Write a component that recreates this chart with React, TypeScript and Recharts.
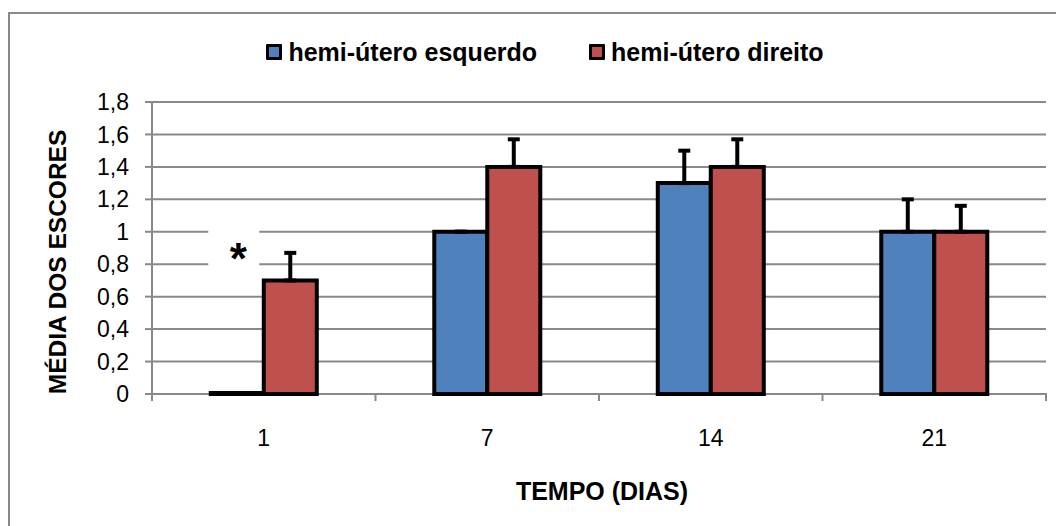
import { Bar, BarChart, CartesianGrid, ErrorBar, LabelList, Legend, XAxis, YAxis } from "recharts";

const days = ["1", "7", "14", "21"];
const seriesNames = ["hemi-útero esquerdo", "hemi-útero direito"];
const esquerdo = [0, 1.0, 1.3, 1.0];
const direito = [0.7, 1.4, 1.4, 1.0];
const esquerdoErr = [0, 0, 0.2, 0.2];
const direitoErr = [0.17, 0.17, 0.17, 0.16];
const marks = ["*", "", "", ""];
const yTicks = [0, 0.2, 0.4, 0.6, 0.8, 1, 1.2, 1.4, 1.6, 1.8];

const data = days.map((day, i) => ({
  day,
  esquerdo: esquerdo[i],
  direito: direito[i],
  esquerdoErr: [0, esquerdoErr[i]],
  direitoErr: [0, direitoErr[i]],
  mark: marks[i],
}));

const W = 1056;
const H = 518;
const margin = { top: 64, right: 18, bottom: 0, left: 0 };
const Y_AXIS_W = 144;
const X_AXIS_H = 132;
const FONT = '"Liberation Sans", Arial, sans-serif';
const GRID = "#898989";
const band = (W - margin.left - Y_AXIS_W - margin.right) / days.length;

function XTick(props: any) {
  const { x, y, payload, index } = props;
  const half = band / 2;
  return (
    <g>
      <line x1={x - half} x2={x - half} y1={y - 1} y2={y + 7} stroke={GRID} strokeWidth={2} />
      {index === days.length - 1 && (
        <line x1={x + half} x2={x + half} y1={y - 1} y2={y + 7} stroke={GRID} strokeWidth={2} />
      )}
      <text x={x} y={y + 52} textAnchor="middle" fontSize={23} fontFamily={FONT} fill="#000">
        {payload.value}
      </text>
    </g>
  );
}

function YTitle(props: any) {
  const vb = props.viewBox;
  const cx = vb.x + 49;
  const cy = vb.y + vb.height / 2 + 14;
  return (
    <text
      x={cx}
      y={cy}
      transform={`rotate(-90, ${cx}, ${cy})`}
      textAnchor="middle"
      dominantBaseline="central"
      fontSize={24.5}
      fontWeight="bold"
      fontFamily={FONT}
      fill="#000"
    >
      MÉDIA DOS ESCORES
    </text>
  );
}

function XTitle(props: any) {
  const vb = props.viewBox;
  return (
    <text
      x={vb.x + vb.width / 2 + 3}
      y={vb.y + 97}
      textAnchor="middle"
      dominantBaseline="central"
      fontSize={25}
      fontWeight="bold"
      fontFamily={FONT}
      fill="#000"
    >
      TEMPO (DIAS)
    </text>
  );
}

function MarkLabel(props: any) {
  const { x, y, width, value } = props;
  if (!value) return null;
  const cx = x + width / 2 + 1;
  const cy = y - 144;
  return (
    <g>
      <rect x={cx - 30} y={cy - 24} width={51} height={47} fill="#fff" />
      <text x={cx} y={cy + 25} textAnchor="middle" fontSize={44} fontWeight="bold" fontFamily={FONT} fill="#000">
        {value}
      </text>
    </g>
  );
}

function LegendBox(props: any) {
  const items = [...(props.payload ?? [])].sort(
    (a: any, b: any) => seriesNames.indexOf(a.value) - seriesNames.indexOf(b.value)
  );
  return (
    <div
      style={{
        display: "flex",
        justifyContent: "center",
        alignItems: "center",
        height: 30,
        gap: 52,
        paddingLeft: 18,
        fontFamily: FONT,
        fontWeight: "bold",
        fontSize: 25,
        color: "#000",
      }}
    >
      {items.map((it: any) => (
        <div key={it.value} style={{ display: "flex", alignItems: "center" }}>
          <span
            style={{
              display: "inline-block",
              width: 10,
              height: 10,
              background: it.color,
              border: "3px solid #000",
              borderRadius: 1,
              marginRight: 6,
            }}
          />
          <span>{it.value}</span>
        </div>
      ))}
    </div>
  );
}

export default function App() {
  return (
    <div style={{ position: "relative", width: W, height: H, overflow: "hidden", background: "#fff" }}>
      <div
        style={{
          position: "absolute",
          left: 0,
          top: 4,
          width: W + 20,
          height: H + 20,
          borderTop: `2px solid ${GRID}`,
          borderLeft: `2px solid ${GRID}`,
        }}
      />
      <div style={{ position: "absolute", left: 0, top: 0 }}>
        <BarChart width={W} height={H} data={data} margin={margin} barGap={0} barCategoryGap="26.3%">
          <CartesianGrid vertical={false} stroke={GRID} strokeWidth={2} />
          <Legend
            verticalAlign="top"
            align="center"
            content={LegendBox}
            wrapperStyle={{ top: 29, left: 0, width: W }}
          />
          <XAxis
            dataKey="day"
            height={X_AXIS_H}
            axisLine={false}
            tickLine={false}
            tickSize={0}
            tickMargin={0}
            tick={XTick}
            interval={0}
            label={{ value: "TEMPO (DIAS)", content: XTitle }}
          />
          <YAxis
            width={Y_AXIS_W}
            domain={[0, 1.8]}
            ticks={yTicks}
            interval={0}
            axisLine={{ stroke: GRID, strokeWidth: 2 }}
            tickLine={{ stroke: GRID, strokeWidth: 2 }}
            tickSize={7}
            tickMargin={16}
            tick={{ fontSize: 23, fontFamily: FONT, fill: "#000" }}
            tickFormatter={(v: number) => String(v).replace(".", ",")}
            label={{ value: "MÉDIA DOS ESCORES", content: YTitle }}
          />
          <Bar
            dataKey="esquerdo"
            name={seriesNames[0]}
            fill="#4F81BD"
            stroke="#000"
            strokeWidth={4}
            minPointSize={1}
            isAnimationActive={false}
          >
            <ErrorBar dataKey="esquerdoErr" direction="y" width={6} stroke="#000" strokeWidth={4} />
            <LabelList dataKey="mark" content={MarkLabel} />
          </Bar>
          <Bar
            dataKey="direito"
            name={seriesNames[1]}
            fill="#C0504D"
            stroke="#000"
            strokeWidth={4}
            minPointSize={1}
            isAnimationActive={false}
          >
            <ErrorBar dataKey="direitoErr" direction="y" width={6} stroke="#000" strokeWidth={4} />
          </Bar>
        </BarChart>
      </div>
    </div>
  );
}
